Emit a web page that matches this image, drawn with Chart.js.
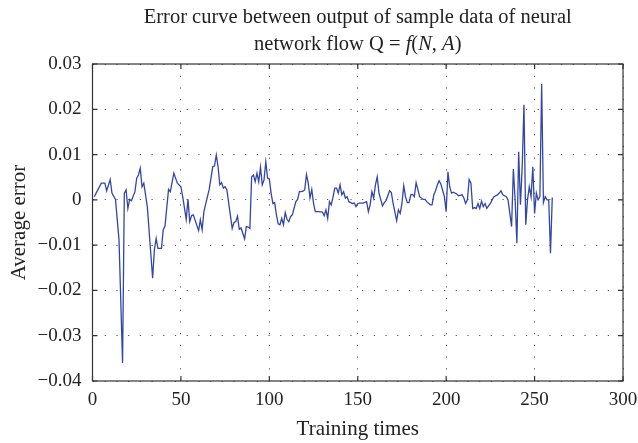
<!DOCTYPE html>
<html>
<head>
<meta charset="utf-8">
<script src="https://cdn.jsdelivr.net/npm/chart.js@4.4.0/dist/chart.umd.min.js"></script>
<style>
html,body{margin:0;padding:0;background:#fff;}
#wrap{width:638px;height:443px;position:relative;}
</style>
</head>
<body>
<div id="wrap"><canvas id="c" width="638" height="443"></canvas></div>
<script>
// ---- data ----
const trainingTimes = [1,3,5,7,8,10,11,13,15,17,18,19,20,21,22,24,25,26,27,28,29,31,34,35,36,37,39,40,41,43,44,46,48,50,51,53,54,55,56,57,60,61,62,63,65,66,68,69,70,71,72,73,74,75,76,79,80,81,82,83,84,86,87,88,89,90,91,92,93,94,95,96,97,98,99,100,101,102,103,104,105,106,107,108,109,110,111,112,113,115,116,117,118,119,120,121,122,123,124,125,126,128,130,131,132,133,134,135,136,137,138,139,140,141,142,143,144,145,147,148,149,150,151,153,155,156,157,158,159,160,161,162,164,165,166,168,169,170,172,173,174,175,176,177,178,179,180,181,182,183,184,185,187,188,189,191,192,193,194,195,196,197,199,200,201,202,203,204,206,207,209,210,211,212,213,214,215,216,217,218,219,220,221,222,223,225,226,227,229,230,231,232,233,234,235,237,238,239,240,241,242,243,244,245,246,247,248,249,250,251,252,253,254,255,256,257,258,259,260];
const averageError = [0.0007,0.0022,0.0037,0.0037,0.002,0.0045,0.0015,0.0001,-0.0089,-0.036,0.0015,0.0022,-0.0019,0.0001,-0.0002,0.0018,0.0048,0.0055,0.007,0.0029,0.0037,-0.0015,-0.0173,-0.011,-0.0085,-0.0107,-0.0107,-0.0066,-0.0058,0.0023,0.0018,0.0059,0.0037,0.0029,0.0007,-0.0043,0.0001,-0.0048,-0.0035,-0.0033,-0.0068,-0.0044,-0.0066,-0.0026,0.0007,0.0023,0.0073,0.0075,0.0099,0.0073,0.0033,0.0038,0.0026,0.0029,0.0022,-0.0063,-0.005,-0.0048,-0.0036,-0.0065,-0.0062,-0.0086,-0.0059,-0.006,-0.0063,0.0051,0.0055,0.004,0.0059,0.004,0.0072,0.0033,0.0044,0.0084,0.0048,0.0046,0.0015,-0.0008,-0.0006,-0.0033,-0.0053,-0.0055,-0.0041,-0.0055,-0.0028,-0.0043,-0.0048,-0.0037,-0.0033,-0.0004,0.0001,0.0018,0.0018,0.0019,0.0022,0.0056,0.0037,0.0004,0.0023,-0.0008,-0.0026,-0.0026,-0.0027,-0.0035,-0.0022,-0.0041,-0.0004,-0.0011,0.0006,0.0026,0.0026,0.0015,0.0033,0.0011,0.0018,0.0004,0.0007,-0.0004,-0.0008,-0.0007,-0.0015,-0.0008,-0.0007,-0.0007,-0.0004,-0.0026,-0.0011,0.0018,0.0004,0.0033,0.0051,0.0015,-0.0013,-0.0006,-0.0002,0.002,0.0016,-0.0008,-0.0046,-0.0022,-0.003,-0.0008,0.0031,0.0007,-0.0006,-0.0006,0.0011,0.0012,0.0007,0.0038,0.0023,0.0007,0.0001,0.0001,-0.0004,-0.0011,-0.0011,0.0011,0.002,0.0033,0.0042,0.0035,0.0007,-0.0026,0.0062,0.0029,0.0015,0.0017,0.0013,0.0009,0.0011,0.0004,-0.0008,0,0.0045,0.0037,-0.0019,-0.0017,-0.0019,-0.0008,-0.0019,-0.0003,-0.0015,-0.0008,-0.0019,-0.0008,0,0.0007,0.0011,0.0015,0.002,0.0011,0.0009,0.0007,0,-0.0059,0.0068,0,-0.0096,0.0106,-0.0011,0.0073,0.021,-0.0055,0,0.0029,0.0007,0.0073,-0.003,0.0015,0,0.0007,0.0256,-0.0006,0.0007,0,0,-0.0118,0.0005];
const xTickLabels = ["0","50","100","150","200","250","300"];
const yTickLabels = ["\u22120.04","\u22120.03","\u22120.02","\u22120.01","0","0.01","0.02","0.03"];
const titleLine1 = "Error curve between output of sample data of neural";
const titleLine2Parts = [["network flow Q = ",false],["f",true],["(",false],["N",true],[", ",false],["A",true],[")",false]];
const xAxisTitle = "Training times";
const yAxisTitle = "Average error";

const FONT = "'Liberation Serif', 'Times New Roman', serif";
const TEXT = "#222";
const TITLE_SIZE = 20.5;

const points = trainingTimes.map((t, i) => ({x: t, y: averageError[i]}));

const framePlugin = {
  id: 'frame',
  afterDraw(chart) {
    const ctx = chart.ctx, a = chart.chartArea;
    const xs = chart.scales.x, ys = chart.scales.y;
    ctx.save();
    ctx.strokeStyle = '#333';
    ctx.lineWidth = 1.2;
    ctx.strokeRect(a.left, a.top, a.right - a.left, a.bottom - a.top);
    ctx.beginPath();
    const tl = 5;
    xs.ticks.forEach(t => {
      const px = xs.getPixelForValue(t.value);
      ctx.moveTo(px, a.bottom); ctx.lineTo(px, a.bottom - tl);
      ctx.moveTo(px, a.top); ctx.lineTo(px, a.top + tl);
    });
    ys.ticks.forEach(t => {
      const py = ys.getPixelForValue(t.value);
      ctx.moveTo(a.left, py); ctx.lineTo(a.left + tl, py);
      ctx.moveTo(a.right, py); ctx.lineTo(a.right - tl, py);
    });
    ctx.stroke();
    // title
    const cx = (a.left + a.right) / 2;
    ctx.fillStyle = TEXT;
    ctx.textBaseline = 'alphabetic';
    ctx.font = TITLE_SIZE + "px " + FONT;
    ctx.textAlign = 'center';
    ctx.fillText(titleLine1, cx, 23);
    let total = 0;
    const widths = titleLine2Parts.map(([s, it]) => {
      ctx.font = (it ? "italic " : "") + TITLE_SIZE + "px " + FONT;
      const w = ctx.measureText(s).width; total += w; return w;
    });
    let x = cx - total / 2;
    ctx.textAlign = 'left';
    titleLine2Parts.forEach(([s, it], i) => {
      ctx.font = (it ? "italic " : "") + TITLE_SIZE + "px " + FONT;
      ctx.fillText(s, x, 50);
      x += widths[i];
    });
    ctx.restore();
  }
};

new Chart(document.getElementById('c'), {
  type: 'line',
  data: {
    datasets: [{
      data: points,
      borderColor: 'rgb(50,70,168)',
      borderWidth: 1.3,
      pointRadius: 0,
      tension: 0,
      fill: false
    }]
  },
  options: {
    responsive: false,
    animation: false,
    devicePixelRatio: 1,
    layout: {padding: {top: 64, right: 15, left: 0, bottom: 0}},
    plugins: {legend: {display: false}, tooltip: {enabled: false}, title: {display: false}},
    scales: {
      x: {
        type: 'linear', min: 0, max: 300,
        ticks: {stepSize: 50, padding: 8, color: TEXT, font: {family: FONT, size: 19},
          maxRotation: 0, callback: (v, i) => xTickLabels[i]},
        grid: {drawTicks: false, color: '#555', lineWidth: 1},
        border: {display: false, dash: [1.2, 10.5]},
        title: {display: true, text: xAxisTitle, color: TEXT, font: {family: FONT, size: 21}, padding: {top: 0, bottom: 1}},
        afterFit: s => { s.height = 62; s.paddingLeft = 0; s.paddingRight = 0; }
      },
      y: {
        type: 'linear', min: -0.04, max: 0.03,
        ticks: {stepSize: 0.01, padding: 11, color: TEXT, font: {family: FONT, size: 19},
          callback: (v, i) => yTickLabels[i]},
        grid: {drawTicks: false, color: '#555', lineWidth: 1},
        border: {display: false, dash: [1.2, 10.5]},
        title: {display: true, text: yAxisTitle, color: TEXT, font: {family: FONT, size: 21}, padding: {top: 7, bottom: 0}},
        afterFit: s => { s.width = 92.5; s.paddingTop = 0; s.paddingBottom = 0; }
      }
    }
  },
  plugins: [framePlugin]
});
</script>
</body>
</html>
